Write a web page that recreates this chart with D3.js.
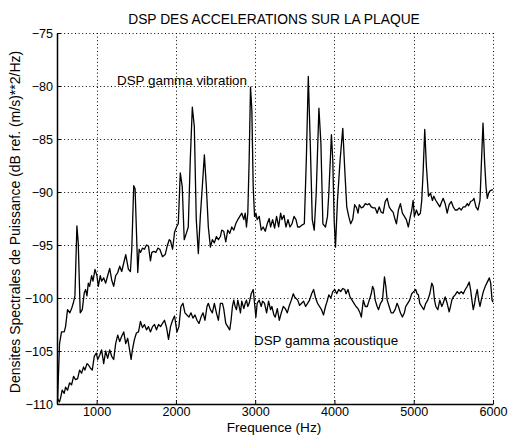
<!DOCTYPE html>
<html><head><meta charset="utf-8">
<script src="https://cdn.jsdelivr.net/npm/d3@7"></script>
<style>body{margin:0;background:#fff}svg{display:block}text{font-family:"Liberation Sans",Arial,Helvetica,sans-serif;fill:#000}</style>
</head><body><svg id="c" width="511" height="441"></svg>
<script>
const title = "DSP DES ACCELERATIONS SUR LA PLAQUE";
const xLabel = "Frequence (Hz)";
const yLabel = "Densites Spectrales de Puissance (dB ref. (m/s)**2/Hz)";
const labelVibration = "DSP gamma vibration";
const labelAcoustic = "DSP gamma acoustique";
const xTicks = [1000, 2000, 3000, 4000, 5000, 6000];
const yTicks = [-110, -105, -100, -95, -90, -85, -80, -75];

const vibFreq = [506,532,557,591,608,633,662,684,705,726,751,768,793,819,844,861,878,895,911,937,954,979,1004,1021,1046,1063,1089,1114,1139,1165,1190,1215,1240,1266,1291,1316,1342,1367,1401,1426,1443,1468,1485,1519,1536,1553,1578,1603,1629,1654,1679,1696,1721,1747,1772,1797,1831,1865,1890,1916,1932,1958,1983,
2008,2030,2055,2080,2105,2131,2156,2181,2207,2232,2257,2283,2308,2333,2359,2384,2409,2435,2460,2485,2511,2536,2561,2578,2603,2629,2654,2679,2705,2730,2755,2781,2806,2831,2857,2874,2890,2907,2924,2941,2958,2975,2992,3009,3025,3051,3076,3101,3127,3152,3177,3194,3220,3245,3270,3296,3321,3338,3363,3388,3414,3439,3464,3490,3515,
3536,3561,3595,3620,3645,3670,3695,3720,3745,3770,3804,3829,3854,3887,3912,3929,3962,3979,3996,4013,4038,4071,4105,4130,4155,4180,4205,4230,4255,4280,4297,4314,4339,4364,4389,4414,4439,4464,4489,4514,4539,4564,4589,4614,4640,4665,4690,4715,4740,4765,4782,4807,4832,4857,4882,4907,4932,4957,
4975,4992,5008,5034,5059,5084,5101,5118,5139,5160,5186,5211,5236,5253,5279,5304,5329,5354,5371,5397,5422,5447,5473,5498,5523,5549,5574,5599,5625,5650,5675,5692,5717,5743,5760,5785,5810,5836,5852,5874,5895,5912,5928,5945,5962,5988,6000];
const vibDb = [-109.9,-104.3,-103.2,-103.2,-102.7,-101.1,-101.4,-101.0,-100.5,-99.8,-93.2,-94.8,-101.4,-101.1,-99.5,-99.2,-99.8,-98.6,-98.9,-97.9,-98.4,-97.3,-97.9,-98.9,-97.9,-98.4,-98.1,-98.6,-97.9,-97.2,-98.3,-98.9,-97.9,-97.6,-97.0,-97.5,-96.7,-95.9,-97.3,-97.5,-95.4,-89.4,-89.7,-97.6,-95.4,-95.7,-95.3,-95.4,-95.0,-95.1,-96.5,-95.7,-95.6,-95.7,-95.3,-95.4,-96.1,-95.9,-95.1,-94.5,-94.6,-95.4,-93.8,
-93.3,-93.0,-88.2,-89.5,-94.5,-93.9,-93.3,-87.0,-82.0,-83.8,-92.6,-95.8,-92.3,-89.5,-86.5,-89.5,-93.3,-95.2,-94.5,-94.8,-94.2,-94.5,-94.2,-93.6,-93.7,-94.7,-93.6,-93.9,-93.3,-93.6,-93.0,-92.6,-92.3,-92.0,-92.6,-92.0,-93.3,-92.0,-87.0,-80.1,-82.3,-89.5,-92.3,-92.0,-92.6,-92.3,-93.6,-93.3,-93.7,-93.0,-92.5,-93.3,-92.6,-93.4,-92.3,-93.3,-92.0,-92.6,-92.2,-93.3,-92.6,-93.3,-93.0,-92.3,-92.6,
-93.3,-93.3,-93.1,-93.0,-87.0,-79.1,-85.4,-92.6,-93.6,-90.1,-82.1,-85.4,-93.0,-93.3,-92.3,-90.1,-84.6,-87.0,-92.6,-95.2,-90.8,-87.0,-84.0,-87.9,-91.4,-92.3,-93.0,-92.6,-91.2,-91.5,-92.0,-91.2,-91.5,-91.4,-91.1,-91.2,-91.1,-91.4,-91.5,-91.5,-92.0,-91.4,-91.9,-92.0,-90.9,-90.6,-91.4,-91.7,-91.9,-92.6,-93.0,-91.7,-91.1,-92.0,-92.3,-92.6,-93.3,-92.3,
-91.7,-90.8,-92.3,-91.7,-92.2,-92.0,-90.8,-88.2,-84.1,-87.6,-90.4,-90.1,-90.8,-90.4,-90.8,-91.1,-91.4,-90.9,-90.6,-91.1,-92.0,-91.2,-90.9,-91.4,-91.7,-91.7,-91.5,-91.7,-91.4,-91.4,-91.1,-91.3,-90.9,-90.8,-90.6,-91.4,-91.7,-90.8,-87.6,-83.5,-87.3,-89.5,-90.6,-90.1,-89.9,-89.8,-89.8];

const acFreq = [506,532,549,565,591,608,633,658,684,709,734,760,785,810,835,852,878,895,920,945,970,996,1013,1038,1063,1089,1114,1139,1165,1190,1215,1240,1266,1291,1316,1342,1367,1392,1418,1435,1451,1477,1502,1528,1553,1578,1603,1629,1654,1679,1705,1730,1755,1781,1806,1831,1856,1882,1907,1932,1958,1983,
2013,2038,2063,2089,2114,2139,2165,2190,2215,2241,2266,2291,2317,2342,2367,2392,2409,2435,2460,2485,2511,2536,2561,2587,2603,2629,2654,2679,2696,2713,2730,2747,2764,2781,2798,2814,2831,2857,2874,2890,2907,2924,2950,2975,2992,3009,3025,3051,3076,3093,3118,3144,3169,3194,3211,3236,3253,3279,3304,3329,3355,3380,3405,3431,3456,3481,3498,
3536,3561,3586,3611,3636,3661,3686,3712,3737,3762,3787,3812,3837,3862,3887,3912,3929,3954,3979,4004,4029,4054,4079,4105,4130,4146,4171,4196,4222,4247,4272,4297,4322,4339,4364,4389,4414,4439,4464,4481,4497,4514,4539,4556,4581,4606,4631,4648,4665,4690,4715,4740,4765,4790,4807,4832,4857,4882,4899,4924,4949,
4975,5000,5025,5042,5059,5076,5101,5127,5152,5177,5203,5228,5245,5262,5279,5304,5329,5354,5371,5397,5422,5447,5464,5481,5498,5523,5549,5574,5599,5625,5650,5675,5700,5717,5734,5751,5768,5785,5802,5819,5836,5852,5878,5903,5928,5954,5971,5988,6000];
const acDb = [-109.5,-109.8,-109.3,-108.7,-109.0,-108.4,-108.7,-108.0,-108.2,-107.4,-107.7,-107.6,-106.8,-107.1,-106.5,-106.8,-106.2,-106.3,-106.6,-106.8,-105.5,-105.2,-105.8,-105.4,-104.9,-106.2,-105.0,-105.7,-104.9,-105.5,-105.8,-104.3,-103.5,-104.1,-103.6,-103.2,-104.3,-103.8,-105.0,-105.8,-104.9,-103.9,-103.3,-103.2,-102.2,-102.8,-102.5,-103.0,-102.7,-103.2,-102.7,-102.5,-103.0,-102.5,-102.7,-102.4,-102.1,-102.8,-103.9,-102.7,-102.1,-101.7,
-103.2,-102.7,-100.8,-100.5,-101.4,-101.6,-101.8,-101.4,-101.9,-101.6,-102.1,-102.4,-101.8,-101.4,-102.1,-100.8,-100.5,-101.1,-101.4,-100.5,-101.4,-102.1,-100.5,-100.5,-101.0,-102.4,-102.7,-103.0,-102.1,-100.8,-100.2,-100.8,-101.1,-100.2,-100.8,-101.4,-100.3,-101.0,-100.5,-100.2,-100.8,-100.5,-99.6,-99.2,-100.5,-101.8,-100.5,-100.2,-100.8,-100.3,-100.5,-101.4,-100.3,-101.1,-100.8,-101.6,-101.8,-101.0,-102.1,-101.4,-100.8,-101.0,-101.4,-100.7,-100.2,-99.6,-99.9,
-100.2,-100.7,-100.5,-100.3,-100.8,-100.5,-100.2,-99.6,-99.2,-100.0,-100.5,-100.8,-101.1,-101.6,-100.8,-100.2,-99.7,-100.0,-99.4,-99.2,-99.6,-99.2,-99.4,-99.1,-99.2,-99.6,-99.2,-99.9,-100.2,-100.5,-100.8,-101.0,-101.4,-101.8,-100.2,-100.8,-100.8,-100.2,-99.6,-98.9,-99.2,-100.2,-100.8,-101.1,-100.5,-100.2,-98.0,-98.9,-100.2,-100.8,-101.4,-101.4,-101.1,-100.5,-100.8,-101.4,-101.8,-101.4,-100.8,-100.5,-100.2,
-99.6,-99.4,-99.2,-99.6,-99.7,-100.5,-100.8,-101.1,-100.5,-100.2,-99.6,-98.6,-98.9,-100.2,-100.8,-101.1,-100.2,-100.8,-100.5,-99.9,-100.5,-101.3,-100.8,-100.2,-99.9,-99.7,-99.4,-99.6,-99.4,-99.6,-99.2,-98.9,-98.5,-99.2,-100.2,-101.1,-100.5,-99.7,-99.2,-100.2,-100.8,-100.2,-99.4,-98.9,-98.5,-98.1,-98.6,-100.2,-100.4];

const svg = d3.select("#c");
svg.append("rect").attr("width",511).attr("height",441).attr("fill","#fff");
const L=57, R=493, T=33, B=404;
const x = d3.scaleLinear().domain([500,6000]).range([L,R]);
const y = d3.scaleLinear().domain([-110,-75]).range([B,T]);

const grid = svg.append("g").attr("stroke","#000").attr("stroke-width",1).attr("stroke-dasharray","1,2.6");
grid.selectAll(".vx").data(xTicks).join("line")
  .attr("x1",d=>Math.round(x(d))+0.5).attr("x2",d=>Math.round(x(d))+0.5).attr("y1",T).attr("y2",B);
grid.selectAll(".hy").data(yTicks.filter(d=>d>-110)).join("line")
  .attr("y1",d=>Math.round(y(d))+0.5).attr("y2",d=>Math.round(y(d))+0.5).attr("x1",L).attr("x2",R);

const fs = "13.6px";
const xAxis = d3.axisBottom(x).tickValues(xTicks).tickFormat(d3.format("d")).tickSizeInner(-4).tickSizeOuter(0);
const gx = svg.append("g").attr("transform",`translate(0,${B})`).call(xAxis);
gx.select(".domain").attr("stroke","#000").attr("stroke-width",1.5);
gx.selectAll("text").style("font-size","12.6px").attr("dy","0.71em").attr("y",3);
const yAxis = d3.axisLeft(y).tickValues(yTicks).tickFormat(d3.format("d")).tickSizeInner(-4).tickSizeOuter(0);
const gy = svg.append("g").attr("transform",`translate(${L},0)`).call(yAxis);
gy.select(".domain").attr("stroke","#000").attr("stroke-width",1.5);
gy.selectAll("text").style("font-size","12.6px").attr("x",-4);
svg.selectAll(".tick line").attr("stroke","#000");

const line = d3.line().x(d=>x(d[0])).y(d=>y(d[1]));
svg.append("path").datum(vibFreq.map((f,i)=>[f,vibDb[i]]))
  .attr("d",line).attr("fill","none").attr("stroke","#000").attr("stroke-width",1.3).attr("stroke-linejoin","round");
svg.append("path").datum(acFreq.map((f,i)=>[f,acDb[i]]))
  .attr("d",line).attr("fill","none").attr("stroke","#000").attr("stroke-width",1.3).attr("stroke-linejoin","round");

svg.append("text").attr("x",274).attr("y",24).attr("text-anchor","middle").style("font-size","13.8px").text(title);
svg.append("text").attr("x",274).attr("y",432).attr("text-anchor","middle").style("font-size",fs).text(xLabel);
svg.append("text").attr("transform","translate(20,222) rotate(-90)").attr("text-anchor","middle").style("font-size","14px").text(yLabel);
svg.append("text").attr("x",117).attr("y",85).style("font-size","13.4px").text(labelVibration);
svg.append("text").attr("x",254).attr("y",345).style("font-size","13.4px").text(labelAcoustic);
</script></body></html>
